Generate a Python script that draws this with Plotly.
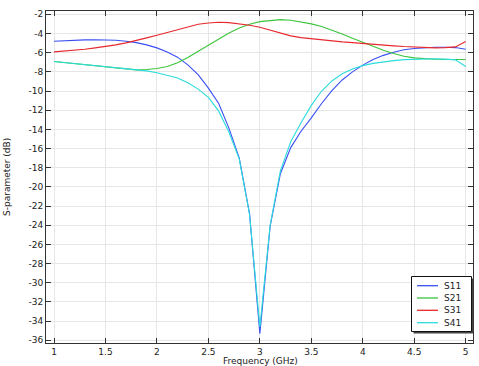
import plotly.graph_objects as go

# ---------------- data ----------------
freq = [1.0, 1.1, 1.2, 1.3, 1.4, 1.5, 1.6, 1.7, 1.8, 1.9,
        2.0, 2.1, 2.2, 2.3, 2.4, 2.5, 2.6, 2.7, 2.8, 2.9,
        3.0, 3.1, 3.2, 3.3, 3.4, 3.5, 3.6, 3.7, 3.8, 3.9,
        4.0, 4.1, 4.2, 4.3, 4.4, 4.5, 4.6, 4.7, 4.8, 4.9, 5.0]

s11 = [-4.81, -4.74, -4.69, -4.67, -4.65, -4.67, -4.70, -4.81, -4.95, -5.19,
       -5.50, -5.92, -6.47, -7.27, -8.30, -9.70, -11.3, -13.9, -17.0, -22.8,
       -35.3, -24.1, -18.6, -15.9, -14.2, -12.8, -11.3, -9.95, -8.85, -8.0,
       -7.30, -6.72, -6.28, -5.95, -5.70, -5.56, -5.48, -5.44, -5.43, -5.47, -5.64]

s21 = [-6.92, -7.03, -7.16, -7.27, -7.41, -7.51, -7.62, -7.72, -7.79, -7.75,
       -7.65, -7.44, -7.06, -6.50, -5.88, -5.22, -4.56, -3.94, -3.42, -3.04,
       -2.76, -2.62, -2.55, -2.62, -2.80, -3.00, -3.28, -3.63, -4.05, -4.50,
       -4.91, -5.36, -5.74, -6.09, -6.37, -6.54, -6.64, -6.68, -6.71, -6.71, -6.71]

s31 = [-5.92, -5.85, -5.74, -5.64, -5.50, -5.36, -5.19, -4.98, -4.74, -4.46,
       -4.18, -3.90, -3.59, -3.28, -3.04, -2.90, -2.83, -2.87, -2.97, -3.14,
       -3.35, -3.66, -4.00, -4.25, -4.43, -4.56, -4.67, -4.77, -4.88, -4.95,
       -5.05, -5.12, -5.22, -5.29, -5.36, -5.43, -5.50, -5.50, -5.47, -5.40, -4.84]

s41 = [-6.92, -7.03, -7.16, -7.27, -7.41, -7.51, -7.62, -7.72, -7.80, -7.90,
       -8.10, -8.34, -8.65, -9.14, -9.80, -10.67, -12.1, -14.3, -17.1, -22.9,
       -34.6, -24.0, -18.3, -15.3, -13.3, -11.5, -10.0, -8.95, -8.20, -7.70,
       -7.35, -7.12, -6.95, -6.83, -6.73, -6.68, -6.65, -6.64, -6.67, -6.75, -7.44]

series_names = ["S11", "S21", "S31", "S41"]
series_values = [s11, s21, s31, s41]
series_colors = ["#3a4ff2", "#3cc43c", "#e8282c", "#2cdcdc"]

x_tick_vals = [1, 1.5, 2, 2.5, 3, 3.5, 4, 4.5, 5]
x_tick_text = ["1", "1.5", "2", "2.5", "3", "3.5", "4", "4.5", "5"]
y_tick_vals = [-36, -34, -32, -30, -28, -26, -24, -22, -20, -18, -16, -14,
               -12, -10, -8, -6, -4, -2]
y_tick_text = ["-36", "-34", "-32", "-30", "-28", "-26", "-24", "-22", "-20",
               "-18", "-16", "-14", "-12", "-10", "-8", "-6", "-4", "-2"]
x_title = "Frequency (GHz)"
y_title = "S-parameter (dB)"

# ---------------- figure ----------------
W, H = 479, 366
ML, MR, MT, MB = 46, 6, 11, 23
PW, PH = W - ML - MR, H - MT - MB
FONT = "DejaVu Sans"

fig = go.Figure()
for name, vals, col in zip(series_names, series_values, series_colors):
    fig.add_trace(go.Scatter(x=freq, y=vals, mode="lines", name=name,
                             line=dict(color=col, width=1.1),
                             showlegend=False))

axis_common = dict(
    ticks="inside", ticklen=5, tickwidth=1, tickcolor="#333",
    showline=True, linecolor="#333", linewidth=1, mirror="ticks",
    showgrid=True, gridcolor="#e6e6e6", gridwidth=1, zeroline=False,
    automargin=False,
    tickfont=dict(family=FONT, size=9, color="#222"),
)

fig.update_xaxes(range=[0.922, 5.071], tickmode="array",
                 tickvals=x_tick_vals, ticktext=x_tick_text, **axis_common)
fig.update_yaxes(range=[-36.28, -1.655], tickmode="array",
                 tickvals=y_tick_vals, ticktext=y_tick_text, **axis_common)


def px2paper(px, py):
    return (px - ML) / PW, (H - MB - py) / PH


shapes = []
annotations = []
# axis titles
tx, ty = px2paper(260, 360.5)
annotations.append(dict(xref="paper", yref="paper", x=tx, y=ty, text=x_title,
                        showarrow=False, xanchor="center", yanchor="middle",
                        font=dict(family=FONT, size=9, color="#222")))
tx, ty = px2paper(7, 177)
annotations.append(dict(xref="paper", yref="paper", x=tx, y=ty, text=y_title,
                        showarrow=False, xanchor="center", yanchor="middle",
                        textangle=-90,
                        font=dict(family=FONT, size=9, color="#222")))

# legend shadow + box
bx0, by0, bx1, by1 = 411.5, 276.5, 471.5, 331.5
sx0, sy0 = px2paper(bx0 + 2, by0 + 2)
sx1, sy1 = px2paper(bx1 + 2, by1 + 2)
shapes.append(dict(type="rect", xref="paper", yref="paper", x0=sx0, y0=sy0,
                   x1=sx1, y1=sy1, fillcolor="#444", line=dict(width=0),
                   layer="above"))
lx0, ly0 = px2paper(bx0, by0)
lx1, ly1 = px2paper(bx1, by1)
shapes.append(dict(type="rect", xref="paper", yref="paper", x0=lx0, y0=ly0,
                   x1=lx1, y1=ly1, fillcolor="white",
                   line=dict(color="#111", width=1), layer="above"))
row_y = [285.7, 298.0, 310.3, 322.7]
for name, col, ry in zip(series_names, series_colors, row_y):
    a0, b0 = px2paper(417, ry)
    a1, _ = px2paper(438, ry)
    shapes.append(dict(type="line", xref="paper", yref="paper", x0=a0, y0=b0,
                       x1=a1, y1=b0, line=dict(color=col, width=1.3),
                       layer="above"))
    tx, ty = px2paper(441.5, ry)
    annotations.append(dict(xref="paper", yref="paper", x=tx, y=ty,
                            text=name, showarrow=False, xanchor="left",
                            yanchor="middle",
                            font=dict(family=FONT, size=9, color="#222")))

fig.update_layout(
    width=W, height=H,
    margin=dict(l=ML, r=MR, t=MT, b=MB, autoexpand=False),
    plot_bgcolor="white", paper_bgcolor="white",
    showlegend=False, shapes=shapes, annotations=annotations,
    font=dict(family=FONT, size=9, color="#222"),
)

fig.write_html("out.html",
               config={"displayModeBar": False},
               post_script="document.body.style.margin='0px';"
                           "document.body.style.overflow='hidden';")
